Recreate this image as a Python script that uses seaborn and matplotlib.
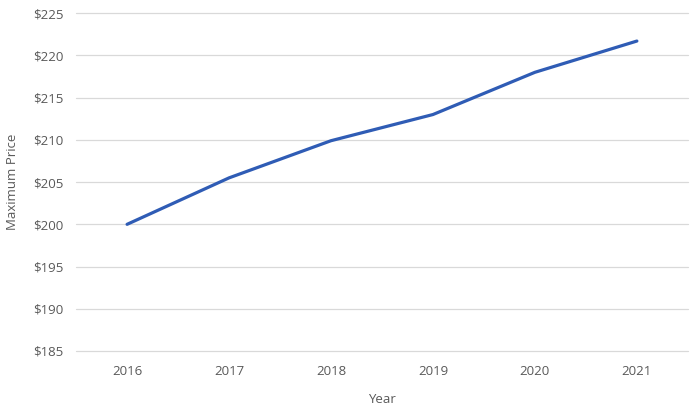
import matplotlib
matplotlib.use("Agg")
import matplotlib.pyplot as plt
import seaborn as sns
import pandas as pd

years = ["2016", "2017", "2018", "2019", "2020", "2021"]
max_price = [200.0, 205.5, 209.9, 213.0, 218.0, 221.7]
y_ticks = [185, 190, 195, 200, 205, 210, 215, 220, 225]

sns.set_style("whitegrid", {"grid.color": "#d9d9d9", "axes.edgecolor": "white"})
plt.rcParams["font.family"] = ["Open Sans", "DejaVu Sans"]

df = pd.DataFrame({"Year": years, "Maximum Price": max_price})

fig = plt.figure(figsize=(6.92, 4.07), dpi=100)
ax = fig.add_axes([0.11, 0.1376, 0.884, 0.83])
sns.lineplot(data=df, x="Year", y="Maximum Price", color="#2f5cb5", linewidth=2.3, ax=ax)

ax.set_xlim(-0.5, len(years) - 0.5)
ax.set_ylim(185, 225)
ax.set_yticks(y_ticks)
ax.set_yticklabels([f"${v}" for v in y_ticks])
ax.grid(axis="x", visible=False)
ax.grid(axis="y", linewidth=0.9)
for gl in ax.get_ygridlines():
    gl.set_clip_on(False)
for s in ax.spines.values():
    s.set_visible(False)
ax.tick_params(axis="both", colors="#595959", labelsize=9.5, length=0)
ax.tick_params(axis="x", pad=10)
ax.tick_params(axis="y", pad=9)
ax.set_xlabel("Year", color="#595959", fontsize=9.5, labelpad=11)
ax.set_ylabel("Maximum Price", color="#595959", fontsize=9.5, labelpad=10)

fig.savefig("out.png", dpi=100)
